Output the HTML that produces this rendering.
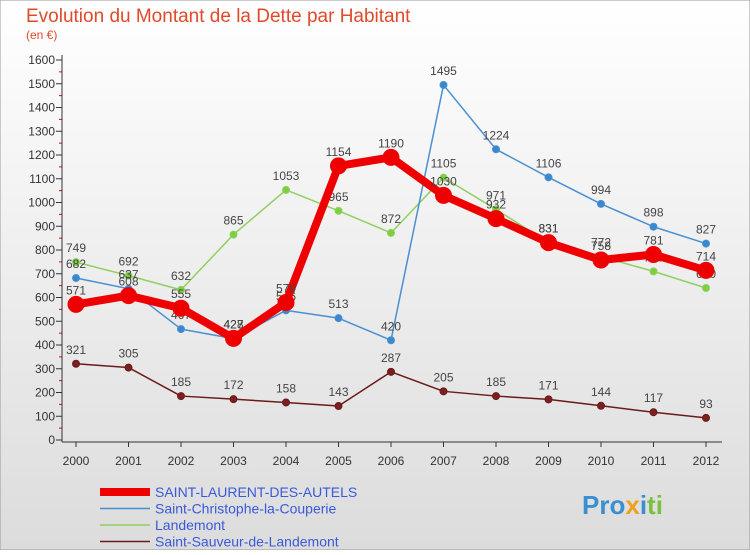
<!DOCTYPE html>
<html><head><meta charset="utf-8"><style>
body{margin:0;width:750px;height:550px;overflow:hidden;font-family:"Liberation Sans",sans-serif}
</style></head><body>
<svg width="750" height="550" xmlns="http://www.w3.org/2000/svg">
<defs><linearGradient id="bg" x1="0" y1="0" x2="0" y2="1"><stop offset="0" stop-color="#ffffff"/><stop offset="1" stop-color="#dcdcdc"/></linearGradient></defs>
<rect x="0" y="0" width="750" height="550" fill="url(#bg)" stroke="#999"/>
<text x="26" y="22" font-size="19" fill="#e04a2a">Evolution du Montant de la Dette par Habitant</text>
<text x="26" y="39" font-size="12" fill="#e04a2a">(en €)</text>
<g id="axes"></g>
<g id="series"></g>
<g id="legend"></g>
<text x="582" y="514" font-size="26" font-weight="bold" fill="#3a8fd0">Pro<tspan fill="#f0a020">x</tspan><tspan fill="#3a8fd0">i</tspan><tspan fill="#7cc040">ti</tspan></text>
</svg>
<script>
const years=[2000,2001,2002,2003,2004,2005,2006,2007,2008,2009,2010,2011,2012];
const yTicks=[0,100,200,300,400,500,600,700,800,900,1000,1100,1200,1300,1400,1500,1600];
const stLaurent=[571,608,555,428,579,1154,1190,1030,932,831,758,781,714];
const stChristophe=[682,637,467,427,546,513,420,1495,1224,1106,994,898,827];
const landemont=[749,692,632,865,1053,965,872,1105,971,831,772,710,640];
const stSauveur=[321,305,185,172,158,143,287,205,185,171,144,117,93];
const names=["SAINT-LAURENT-DES-AUTELS","Saint-Christophe-la-Couperie","Landemont","Saint-Sauveur-de-Landemont"];
const NS="http://www.w3.org/2000/svg";
const xs=i=>76+i*52.5, ys=v=>440-v*0.2375;
function mk(t,a,p){const e=document.createElementNS(NS,t);for(const k in a)e.setAttribute(k,a[k]);p.appendChild(e);return e;}
const ax=document.getElementById('axes');
yTicks.forEach(v=>{
 const g=mk('g',{},ax);
 
 
 mk('line',{x1:56,x2:62,y1:ys(v),y2:ys(v),stroke:'#333'},g);
 if(v<1600)mk('line',{x1:59,x2:62,y1:ys(v+50),y2:ys(v+50),stroke:'#e00'},g);
 const t=mk('text',{x:55,y:ys(v)+4,'text-anchor':'end','font-size':12,fill:'#333'},g);t.textContent=v;
});
const yl=mk('line',{x1:62,x2:62,y1:55,y2:442,stroke:'#333'},ax);


const xl=mk('line',{x1:62,x2:722,y1:442,y2:442,stroke:'#333'},ax);


years.forEach((y,i)=>{
 const t=mk('text',{x:xs(i),y:465,'text-anchor':'middle','font-size':12,fill:'#333'},ax);
 t.textContent=y;
 
 
 mk('line',{x1:xs(i),x2:xs(i),y1:442,y2:447,stroke:'#333'},ax);
});
const sg=document.getElementById('series');
function series(data,color,w,r,fill,key){
 const g=mk('g',{},sg);
 
 
 mk('polyline',{points:data.map((v,i)=>xs(i)+','+ys(v)).join(' '),fill:'none',stroke:color,'stroke-width':w,'stroke-linejoin':'round'},g);
 data.forEach((v,i)=>{
  const c=mk('circle',{cx:xs(i),cy:ys(v),r:r,fill:fill,stroke:color,'stroke-width':1},g);
  
  
  const t=mk('text',{x:xs(i),y:ys(v)-10,'text-anchor':'middle','font-size':12,fill:'#444'},g);
  t.textContent=v;
 });
}
series(stSauveur,'#6b1a1a',1.5,3.5,'#7a2020','st-sauveur');
series(landemont,'#8fd060',1.5,3.5,'#7cd040','landemont');
series(stChristophe,'#4a90d0',1.5,3.5,'#3a88d0','st-christophe');
series(stLaurent,'#ee0000',8,8,'#ee0000','st-laurent');
const lg=document.getElementById('legend');
const lc=['#ee0000','#4a90d0','#8fd060','#6b1a1a'],lw=[8,1.5,1.5,1.5];
names.forEach((n,i)=>{
 const g=mk('g',{},lg);
 
 
 const y=492+i*16.5;
 mk('line',{x1:100,x2:150,y1:y,y2:y,stroke:lc[i],'stroke-width':lw[i]},g);
 const t=mk('text',{x:155,y:y+5,'font-size':14,fill:'#3a5ad8'},g);t.textContent=n;
});
</script>
</body></html>
